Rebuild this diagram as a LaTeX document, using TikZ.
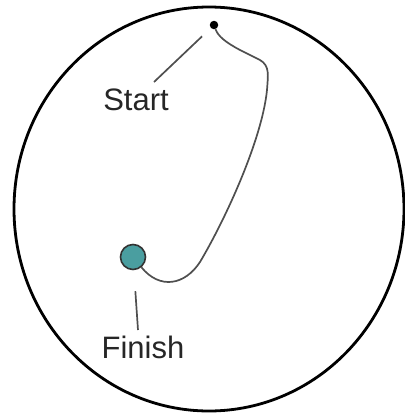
\documentclass[tikz,border=0pt]{standalone}
\usepackage{fontspec}
\setmainfont{Liberation Sans}
\usetikzlibrary{positioning}
\definecolor{goalTeal}{HTML}{4A9EA0}
\definecolor{trailGray}{HTML}{4F4F4F}

\begin{document}
\begin{tikzpicture}[
    x=1pt, y=-1pt,
    rim/.style={draw=black, line width=2.8pt},
    trail/.style={draw=trailGray, line width=1.7pt},
    lead/.style={draw=trailGray, line width=1.7pt},
    dot/.style={circle, fill=black, inner sep=0pt, minimum size=8.5pt},
    goal/.style={circle, draw=black!80, fill=goalTeal, line width=1.6pt,
                 minimum size=25pt, inner sep=0pt},
    lbl/.style={font=\fontsize{31}{34}\selectfont, text=black!85, inner sep=0pt},
  ]
    \useasboundingbox (0,0) rectangle (405,416);
    \draw[rim] (209,209) ellipse [x radius=195pt, y radius=202pt];

    \node[dot] (start) at (214,25) {};
    \node[goal] (finish) at (133,257) {};
    \node[lbl] (startlbl) at (136,100) {Start};
    \node[lbl] (finishlbl) at (143,347) {Finish};
    \coordinate (startpin) at (154,82);
    \coordinate (finishpin) at (138,330);

    \draw[lead, shorten <=12pt] (start) -- (startpin);
    \draw[lead, shorten <=21pt] (finish) -- (finishpin);
    % wandering route from start to finish
    \draw[trail] (start) .. controls (218,36) and (225,42) .. (240,50)
      -- (260,60)
      .. controls (270,66) and (268,75) .. (267,90)
      .. controls (262,140) and (225,220) .. (200,262)
      .. controls (185,285) and (160,290) .. (finish);
\end{tikzpicture}
\end{document}
